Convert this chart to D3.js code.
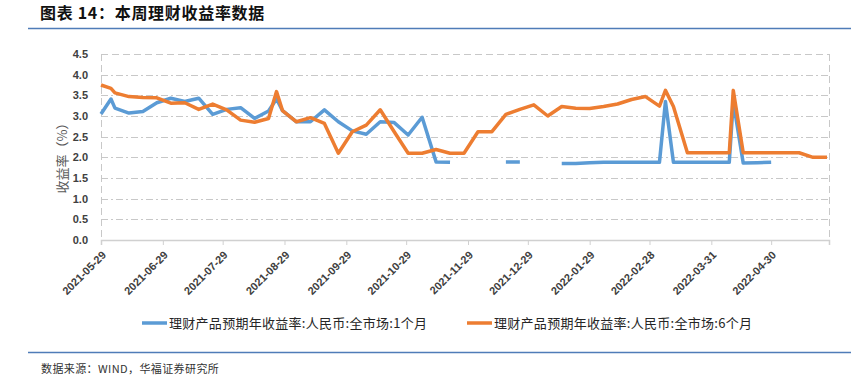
<!DOCTYPE html>
<html>
<head>
<meta charset="utf-8">
<script src="https://cdn.jsdelivr.net/npm/d3@7"></script>
<style>
  body { margin: 0; background: #fff; }
  svg { display: block; }
</style>
</head>
<body>
<div id="chart"></div>
<script>
// 日期 (weekly, plus a few extra observation days)
const dates = [
  '2021-05-29', '2021-06-03', '2021-06-05', '2021-06-12', '2021-06-19', '2021-06-26',
  '2021-07-03', '2021-07-10', '2021-07-17', '2021-07-24', '2021-07-31',
  '2021-08-07', '2021-08-14', '2021-08-21', '2021-08-25', '2021-08-28',
  '2021-09-04', '2021-09-11', '2021-09-18', '2021-09-25',
  '2021-10-02', '2021-10-09', '2021-10-16', '2021-10-23', '2021-10-30',
  '2021-11-06', '2021-11-13', '2021-11-20', '2021-11-27',
  '2021-12-04', '2021-12-11', '2021-12-18', '2021-12-25',
  '2022-01-01', '2022-01-08', '2022-01-15', '2022-01-22', '2022-01-29',
  '2022-02-05', '2022-02-12', '2022-02-19', '2022-02-26',
  '2022-03-05', '2022-03-08', '2022-03-12', '2022-03-19', '2022-03-26',
  '2022-04-02', '2022-04-09', '2022-04-11', '2022-04-16', '2022-04-23', '2022-04-30',
  '2022-05-07', '2022-05-14', '2022-05-21', '2022-05-28'
];

// 1个月
const yield1m = [
  3.05, 3.41, 3.19, 3.07, 3.11, 3.32,
  3.43, 3.35, 3.43, 3.04, 3.16,
  3.20, 2.94, 3.12, 3.41, 3.13,
  2.86, 2.86, 3.15, 2.86,
  2.64, 2.56, 2.86, 2.84, 2.54,
  2.97, 1.89, 1.88, null,
  null, null, 1.89, 1.89,
  null, null, 1.85, 1.85, 1.87,
  1.88, 1.88, 1.88, 1.88,
  1.88, 3.35, 1.88, 1.88, 1.88,
  1.88, 1.88, 3.35, 1.86, 1.87, 1.88,
  null, null, null, null
];

// 6个月
const yield6m = [
  3.75, 3.67, 3.56, 3.47, 3.45, 3.44,
  3.31, 3.32, 3.16, 3.29, 3.15,
  2.90, 2.85, 2.94, 3.59, 3.13,
  2.86, 2.96, 2.82, 2.10,
  2.62, 2.78, 3.15, 2.62, 2.10,
  2.10, 2.19, 2.10, 2.10,
  2.62, 2.62, 3.04, 3.16,
  3.27, 3.00, 3.23, 3.19, 3.18,
  3.23, 3.29, 3.40, 3.47,
  3.24, 3.62, 3.23, 2.11, 2.11,
  2.11, 2.11, 3.62, 2.11, 2.11, 2.11,
  2.11, 2.11, 2.00, 2.00
];

const tickDates = [
  '2021-05-29', '2021-06-29', '2021-07-29', '2021-08-29', '2021-09-29', '2021-10-29',
  '2021-11-29', '2021-12-29', '2022-01-29', '2022-02-28', '2022-03-31', '2022-04-30'
];
const yTicks = [0, 0.5, 1, 1.5, 2, 2.5, 3, 3.5, 4, 4.5];

const seriesNames = [
  '理财产品预期年收益率:人民币:全市场:1个月',
  '理财产品预期年收益率:人民币:全市场:6个月'
];
const seriesColors = ['#5b9bd5', '#ed7d31'];

const parse = d3.timeParse('%Y-%m-%d');
const fmt = d3.timeFormat('%Y-%m-%d');

const width = 851, height = 381;
const plot = { left: 101, right: 829, top: 54, bottom: 240 };

const svg = d3.select('#chart').append('svg')
  .attr('width', width)
  .attr('height', height);

svg.append('rect').attr('width', width).attr('height', height).attr('fill', '#fff');

// Header
svg.append('text')
  .attr('x', 40).attr('y', 19)
  .attr('font-family', '"Noto Sans CJK SC", sans-serif')
  .attr('font-size', 16).attr('font-weight', 700)
  .attr('letter-spacing', 0.7)
  .attr('fill', '#111')
  .text('图表 14：本周理财收益率数据');

svg.append('line')
  .attr('x1', 28).attr('x2', width)
  .attr('y1', 28.5).attr('y2', 28.5)
  .attr('stroke', '#4f7cb8').attr('stroke-width', 1.5);

// Scales
const x = d3.scaleTime()
  .domain([parse('2021-05-29'), parse('2022-05-29')])
  .range([plot.left, plot.right]);

const y = d3.scaleLinear()
  .domain([0, 4.5])
  .range([plot.bottom, plot.top]);

// Grid lines
const grid = svg.append('g');
grid.selectAll('line')
  .data(yTicks.filter(v => v > 0 && v < 4.5))
  .join('line')
  .attr('x1', plot.left).attr('x2', plot.right)
  .attr('y1', d => Math.round(y(d)) + 0.5).attr('y2', d => Math.round(y(d)) + 0.5)
  .attr('stroke', '#c8c8c8')
  .attr('stroke-dasharray', '7,3,2,3');

// plot area border (dashed)
const border = svg.append('g')
  .attr('fill', 'none')
  .attr('stroke', '#c8c8c8')
  .attr('stroke-dasharray', '7,4');
border.append('line')
  .attr('x1', plot.left).attr('x2', plot.right)
  .attr('y1', Math.round(y(4.5)) + 0.5).attr('y2', Math.round(y(4.5)) + 0.5);
border.append('line')
  .attr('x1', plot.left + 0.5).attr('x2', plot.left + 0.5)
  .attr('y1', plot.top).attr('y2', plot.bottom);
border.append('line')
  .attr('x1', plot.right + 0.5).attr('x2', plot.right + 0.5)
  .attr('y1', plot.top).attr('y2', plot.bottom);

// X axis
const xAxis = svg.append('g')
  .attr('transform', `translate(0,${plot.bottom})`)
  .call(d3.axisBottom(x)
    .tickValues(tickDates.map(parse).concat([parse('2022-05-29')]))
    .tickSize(5)
    .tickFormat(''));
xAxis.select('.domain').attr('stroke', '#d0d0d0').attr('stroke-width', 1.5);
xAxis.selectAll('.tick line').attr('stroke', '#d0d0d0');

svg.append('g')
  .selectAll('text')
  .data(tickDates)
  .join('text')
  .attr('transform', d => `translate(${x(parse(d)) + 3},${plot.bottom + 13}) rotate(-45)`)
  .attr('text-anchor', 'end')
  .attr('dy', '0.35em')
  .attr('font-family', '"Liberation Sans", Arial, sans-serif')
  .attr('font-size', 11).attr('font-weight', 700)
  .attr('fill', '#404040')
  .text(d => fmt(parse(d)));

// Y axis labels
const yAxis = svg.append('g')
  .attr('transform', `translate(${plot.left},0)`)
  .call(d3.axisLeft(y).tickValues(yTicks).tickSize(0).tickPadding(13)
    .tickFormat(d3.format('.1f')));
yAxis.select('.domain').remove();
yAxis.selectAll('text')
  .attr('font-family', '"Liberation Sans", Arial, sans-serif')
  .attr('font-size', 11).attr('font-weight', 700)
  .attr('fill', '#404040');

svg.append('text')
  .attr('transform', `translate(62,${(plot.top + plot.bottom) / 2 + 8}) rotate(-90)`)
  .attr('text-anchor', 'middle')
  .attr('dy', '0.35em')
  .attr('font-family', '"Noto Sans CJK SC", sans-serif')
  .attr('font-size', 13)
  .attr('fill', '#595959')
  .text('收益率（%）');

// Lines
const rows = dates.map((d, i) => ({ date: parse(d), v: [yield1m[i], yield6m[i]] }));

const lineGen = idx => d3.line()
  .defined(d => d.v[idx] != null)
  .x(d => x(d.date))
  .y(d => y(d.v[idx]));

[0, 1].forEach(idx => {
  svg.append('path')
    .datum(rows)
    .attr('fill', 'none')
    .attr('stroke', seriesColors[idx])
    .attr('stroke-width', 3.5)
    .attr('stroke-linejoin', 'round')
    .attr('d', lineGen(idx));
});

// Legend
const legendPos = [142, 467];
const legend = svg.append('g');
seriesNames.forEach((name, i) => {
  legend.append('line')
    .attr('x1', legendPos[i]).attr('x2', legendPos[i] + 25)
    .attr('y1', 323).attr('y2', 323)
    .attr('stroke', seriesColors[i]).attr('stroke-width', 3.5);
  legend.append('text')
    .attr('x', legendPos[i] + 27).attr('y', 323)
    .attr('dy', '0.35em')
    .attr('font-family', '"Noto Sans CJK SC", sans-serif')
    .attr('font-size', 13)
    .attr('textLength', 258)
    .attr('fill', '#262626')
    .text(name);
});

// Footer
svg.append('line')
  .attr('x1', 28).attr('x2', width)
  .attr('y1', 352.5).attr('y2', 352.5)
  .attr('stroke', '#4f7cb8').attr('stroke-width', 1.5);

svg.append('text')
  .attr('x', 41).attr('y', 373)
  .attr('font-family', '"Noto Sans CJK SC", sans-serif')
  .attr('font-size', 11)
  .attr('letter-spacing', 0.4)
  .attr('fill', '#333')
  .text('数据来源：WIND，华福证券研究所');
</script>
</body>
</html>
